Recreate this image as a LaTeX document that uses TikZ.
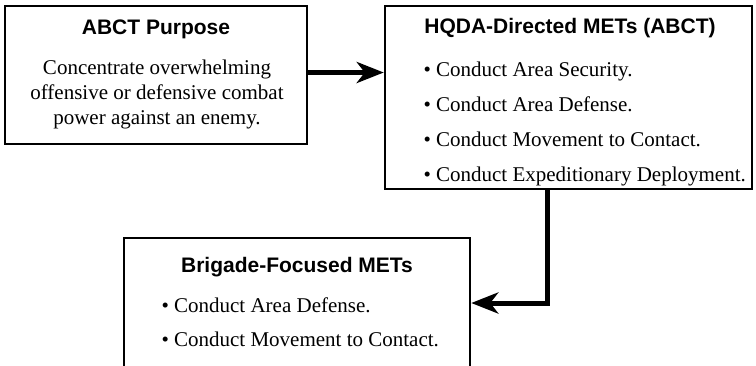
\documentclass[tikz,border=0pt]{standalone}
\usepackage{fontspec}
\setmainfont{Liberation Serif}
\setsansfont{Liberation Sans}
\usepackage{tikz}
\usetikzlibrary{arrows.meta}
\tikzset{box/.style={draw, line width=2.5pt, inner sep=0pt},
 title/.style={font=\sffamily\bfseries\fontsize{21}{25}\selectfont, anchor=base},
 body/.style={font=\fontsize{21}{25}\selectfont, anchor=base},
 item/.style={body, anchor=base west},
 link/.style={line width=5pt, -{Stealth[length=27pt, width=21pt, inset=8pt]}},
 }

\begin{document}
\begin{tikzpicture}[x=1pt, y=-1pt]
        \useasboundingbox (0,0) rectangle (756,365);
        \clip (0,0) rectangle (756,365);
        \node[box, minimum width=302pt, minimum height=138pt] (purpose) at (156,75) {};
        \node[box, minimum width=367pt, minimum height=183pt] (hqda) at (568.5,97.5) {};
        \node[box, minimum width=346pt, minimum height=162pt] (focused) at (297,319) {};
        \node[title] (purposetitle) at (156,34) {ABCT Purpose};
        \node[title] (hqdatitle) at (570,33) {HQDA-Directed METs (ABCT)};
        \node[title] (focusedtitle) at (297,272) {Brigade-Focused METs};
        \node[body] (purpose1) at (157,74) {Concentrate overwhelming};
        \node[body] (purpose2) at (157,99) {offensive or defensive combat};
        \node[body] (purpose3) at (157,124) {power against an enemy.};
        \foreach \y/\txt [count=\i] in {76/Area Security., 111/Area Defense.,
            146/Movement to Contact., 181/Expeditionary Deployment.}
            \node[item] (hqda\i) at (420,\y) {\textbullet\ Conduct \txt};
        \foreach \y/\txt [count=\i] in {312/Area Defense., 346.5/Movement to Contact.}
            \node[item] (focused\i) at (158,\y) {\textbullet\ Conduct \txt};
        \draw[link] ([yshift=2.5pt]purpose.east) -- ([yshift=2.5pt]purpose.east -| hqda.west);
        \draw[link] ([xshift=-21.5pt]hqda.south) |- ([yshift=16pt]focused.east);
    \end{tikzpicture}
\end{document}
